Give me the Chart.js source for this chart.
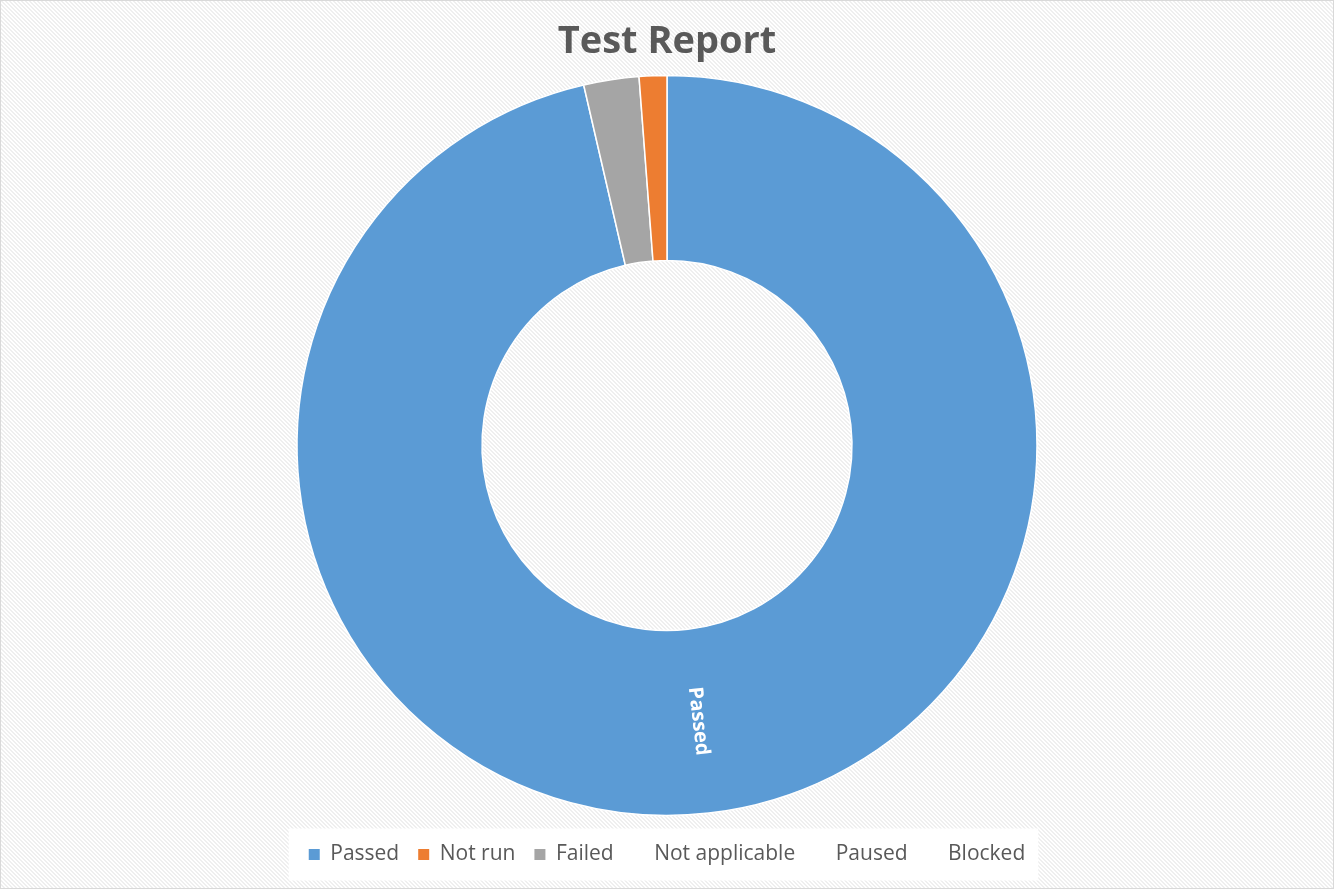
<!DOCTYPE html>
<html>
<head>
<meta charset="utf-8">
<script src="https://cdn.jsdelivr.net/npm/chart.js@4/dist/chart.umd.min.js"></script>
<style>
  html, body { margin: 0; padding: 0; }
  body { width: 1334px; height: 889px; overflow: hidden; background-color: #ffffff; }
  #wrap { position: relative; width: 1334px; height: 889px; }
  #wrap::after {
    content: ""; position: absolute; left: 0; top: 0; right: 0; bottom: 0;
    border: 1px solid #d9d9d9; pointer-events: none;
  }
  canvas { display: block; }
</style>
</head>
<body>
<div id="wrap"><canvas id="c" width="1334" height="889"></canvas></div>
<script>
// Data (in drawing order, clockwise from 12 o'clock)
const categories = ['Passed', 'Failed', 'Not run', 'Not applicable', 'Paused', 'Blocked'];
const counts = [80, 2, 1, 0, 0, 0];
const sliceColors = ['#5B9BD5', '#A5A5A5', '#ED7D31', 'rgba(0,0,0,0)', 'rgba(0,0,0,0)', 'rgba(0,0,0,0)'];
const legendOrder = ['Passed', 'Not run', 'Failed', 'Not applicable', 'Paused', 'Blocked'];
const labelledCategories = ['Passed'];
const chartTitle = 'Test Report';

const TEXT = '#595959';
const FONT = "'Open Sans', 'Liberation Sans', sans-serif";

// faint diagonal hatch background tile
(function () {
  const t = document.createElement('canvas');
  t.width = 4; t.height = 4;
  const c = t.getContext('2d');
  c.fillStyle = '#ffffff'; c.fillRect(0, 0, 4, 4);
  c.fillStyle = '#efefef';
  for (let y = 0; y < 4; y++) for (let x = 0; x < 4; x++) {
    const d = ((x - y) % 4 + 4) % 4;
    if (d === 0 || d === 1) c.fillRect(x, y, 1, 1);
  }
  document.body.style.backgroundImage = 'url(' + t.toDataURL() + ')';
})();

const legendBg = {
  id: 'legendBg',
  beforeDraw(chart) {
    const lg = chart.legend;
    if (!lg || !lg.legendHitBoxes || !lg.legendHitBoxes.length) return;
    let minX = Infinity, maxX = -Infinity, minY = Infinity, maxY = -Infinity;
    lg.legendHitBoxes.forEach(b => {
      minX = Math.min(minX, b.left); maxX = Math.max(maxX, b.left + b.width);
      minY = Math.min(minY, b.top); maxY = Math.max(maxY, b.top + b.height);
    });
    const ctx = chart.ctx;
    ctx.save();
    ctx.fillStyle = '#ffffff';
    const cy = (minY + maxY) / 2;
    ctx.fillRect(minX - 20, cy - 26, (maxX - minX) + 33, 52);
    ctx.restore();
  }
};

const sliceLabels = {
  id: 'sliceLabels',
  afterDatasetsDraw(chart) {
    const meta = chart.getDatasetMeta(0);
    const ctx = chart.ctx;
    meta.data.forEach((arc, i) => {
      if (!labelledCategories.includes(chart.data.labels[i])) return;
      const p = arc.getProps(['x', 'y', 'startAngle', 'endAngle', 'innerRadius', 'outerRadius'], true);
      const mid = (p.startAngle + p.endAngle) / 2;
      const r = (p.innerRadius + p.outerRadius) / 2;
      const x = p.x + Math.cos(mid) * r;
      const y = p.y + Math.sin(mid) * r;
      ctx.save();
      ctx.translate(x, y);
      ctx.rotate(mid);
      ctx.fillStyle = '#ffffff';
      ctx.font = 'bold 20px ' + FONT;
      ctx.textAlign = 'center';
      ctx.textBaseline = 'middle';
      ctx.fillText(chart.data.labels[i], 0, 0);
      ctx.restore();
    });
  }
};

const defaultLabels = Chart.overrides.doughnut.plugins.legend.labels.generateLabels;

new Chart(document.getElementById('c'), {
  type: 'doughnut',
  data: {
    labels: categories,
    datasets: [{
      data: counts,
      backgroundColor: sliceColors,
      borderColor: '#ffffff',
      borderWidth: ctx => (ctx.raw > 0 ? 1.5 : 0),
      radius: 370,
      cutout: '50%'
    }]
  },
  options: {
    responsive: false,
    animation: false,
    rotation: 0,
    layout: { padding: { top: 0, bottom: 14, left: 0, right: 0 } },
    plugins: {
      title: {
        display: true,
        text: chartTitle,
        color: TEXT,
        font: { family: FONT, size: 38, weight: 'bold', lineHeight: 1.2 },
        padding: { top: 19, bottom: 1.4 }
      },
      legend: {
        display: true,
        position: 'bottom',
        labels: {
          color: TEXT,
          font: { family: FONT, size: 21 },
          boxWidth: 11,
          boxHeight: 11,
          padding: 19,
          generateLabels: chart => defaultLabels(chart).map(l => Object.assign(l, { lineWidth: 0, strokeStyle: 'rgba(0,0,0,0)' })),
          sort: (a, b) => legendOrder.indexOf(a.text) - legendOrder.indexOf(b.text)
        }
      },
      tooltip: { enabled: false }
    }
  },
  plugins: [legendBg, sliceLabels]
});
</script>
</body>
</html>
